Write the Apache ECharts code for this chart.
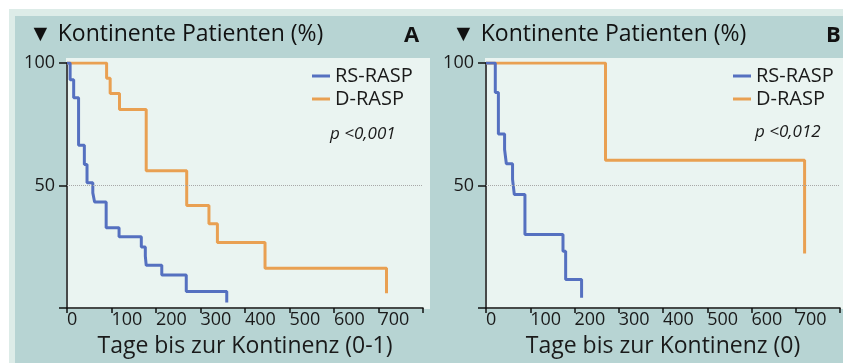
<!DOCTYPE html>
<html><head><meta charset="utf-8">
<script src="https://cdn.jsdelivr.net/npm/echarts@6/dist/echarts.min.js"></script>
<style>html,body{margin:0;padding:0;background:#fff}#c{width:843px;height:363px}</style>
</head><body><div id="c"></div>
<script>
// Panel A: Tage bis zur Kontinenz (0-1)
const daysA_RS = [0, 7, 15, 26, 39, 45, 58, 62, 88, 117, 167, 176, 178, 213, 268, 359];
const pctA_RS  = [100, 93.2, 85.8, 66.4, 58.6, 51.1, 47.0, 43.3, 32.8, 29.1, 24.9, 21.2, 17.4, 13.5, 6.7, 2.2];
const daysA_D  = [0, 89, 97, 118, 178, 269, 319, 338, 445, 718];
const pctA_D   = [100, 93.8, 87.6, 81, 56, 41.8, 34.4, 26.7, 16.2, 6];
// Panel B: Tage bis zur Kontinenz (0)
const daysB_RS = [0, 21, 28, 42, 46, 60, 64, 88, 174, 180, 216];
const pctB_RS  = [100, 88, 71, 64.7, 58.9, 52.5, 46.3, 30, 23.2, 11.6, 4.2];
const daysB_D  = [0, 270, 720];
const pctB_D   = [100, 60.3, 22.2];

const xTicks = [0, 100, 200, 300, 400, 500, 600, 700, 800];
const yTicks = [0, 50, 100];
const seriesNames = ['RS-RASP', 'D-RASP'];
const panelTitles = ['▼ Kontinente Patienten (%)', '▼ Kontinente Patienten (%)'];
const panelLetters = ['A', 'B'];
const xNames = ['Tage bis zur Kontinenz (0-1)', 'Tage bis zur Kontinenz (0)'];
const pTexts = ['p <0,001', 'p <0,012'];

const BLUE = '#5570C0', ORANGE = '#E9A052', TEAL = '#B7D4D3', MINT = '#EAF4F1', LIGHT = '#DDECE8';
const FONT = '"Open Sans", Lato, sans-serif';
const zip = (a, b) => a.map((v, i) => [v, b[i]]);

const gridL = [67, 486];
function xAxis(i) {
  return {
    type: 'value', gridIndex: i, min: xTicks[0], max: xTicks[xTicks.length - 1], interval: 100,
    name: xNames[i], nameLocation: 'middle', nameGap: 27,
    nameTextStyle: { fontFamily: FONT, fontSize: 23, color: '#1a1a1a' },
    axisLine: { show: true, onZero: false, lineStyle: { color: '#111', width: 1.5 } },
    axisTick: { show: true, length: 5, lineStyle: { color: '#111', width: 1.5 } },
    axisLabel: { align: 'left', margin: 3, fontFamily: FONT, fontSize: 18, color: '#1a1a1a',
      formatter: v => (v === 800 ? '' : String(v)) },
    splitLine: { show: false }
  };
}
function yAxis(i) {
  return {
    type: 'value', gridIndex: i, min: yTicks[0], max: yTicks[yTicks.length - 1], interval: 50,
    axisLine: { show: true, onZero: false, lineStyle: { color: '#111', width: 1.5 } },
    axisTick: { show: true, length: 8, lineStyle: { color: '#111', width: 1.5 } },
    axisLabel: { margin: 12, fontFamily: FONT, fontSize: 18, color: '#1a1a1a',
      formatter: v => (v === 0 ? '' : String(v)) },
    splitLine: { show: false }
  };
}
function line(name, data, color, i, mark) {
  const s = {
    name, type: 'line', xAxisIndex: i, yAxisIndex: i, step: 'end', data,
    showSymbol: false, symbol: 'none', lineStyle: { color, width: 3 }, itemStyle: { color },
    animation: false
  };
  if (mark) s.markLine = { silent: true, symbol: 'none', label: { show: false },
    lineStyle: { type: 'dotted', color: '#a8a8a8', width: 1 }, data: [{ yAxis: 50 }] };
  return s;
}

const chart = echarts.init(document.getElementById('c'), null, { renderer: 'canvas' });
chart.setOption({
  backgroundColor: '#fff',
  animation: false,
  graphic: [
    { type: 'rect', z: -100, shape: { x: 9, y: 9, width: 834, height: 354 }, style: { fill: LIGHT } },
    { type: 'rect', z: -99, shape: { x: 15, y: 16, width: 828, height: 347 }, style: { fill: TEAL } },
    { type: 'rect', z: -98, shape: { x: 66, y: 58, width: 364, height: 251 }, style: { fill: MINT } },
    { type: 'rect', z: -98, shape: { x: 485, y: 58, width: 358, height: 251 }, style: { fill: MINT } },
    { type: 'text', left: 330, top: 126, style: { text: pTexts[0], font: 'italic 17px ' + FONT, fill: '#1a1a1a' } },
    { type: 'text', left: 755, top: 124, style: { text: pTexts[1], font: 'italic 17px ' + FONT, fill: '#1a1a1a' } }
  ],
  title: [
    { text: panelTitles[0], left: 29, top: 23, padding: 0, textStyle: { fontFamily: FONT, fontSize: 23, fontWeight: 'normal', color: '#111' } },
    { text: panelLetters[0], left: 404, top: 25, padding: 0, textStyle: { fontFamily: FONT, fontSize: 22, fontWeight: 'bold', color: '#111' } },
    { text: panelTitles[1], left: 452, top: 23, padding: 0, textStyle: { fontFamily: FONT, fontSize: 23, fontWeight: 'normal', color: '#111' } },
    { text: panelLetters[1], left: 826, top: 25, padding: 0, textStyle: { fontFamily: FONT, fontSize: 22, fontWeight: 'bold', color: '#111' } }
  ],
  legend: [
    { data: seriesNames, left: 312, top: 66, orient: 'vertical', icon: 'rect', itemWidth: 18, itemHeight: 3,
      itemGap: 3, padding: 0, textStyle: { fontFamily: FONT, fontSize: 20, color: '#1a1a1a' } },
    { data: seriesNames, left: 733, top: 66, orient: 'vertical', icon: 'rect', itemWidth: 18, itemHeight: 3,
      itemGap: 3, padding: 0, textStyle: { fontFamily: FONT, fontSize: 20, color: '#1a1a1a' } }
  ],
  grid: [
    { left: gridL[0], top: 63, width: 356, height: 246 },
    { left: gridL[1], top: 63, width: 356, height: 246 }
  ],
  xAxis: [xAxis(0), xAxis(1)],
  yAxis: [yAxis(0), yAxis(1)],
  series: [
    line(seriesNames[1], zip(daysA_D, pctA_D), ORANGE, 0, true),
    line(seriesNames[0], zip(daysA_RS, pctA_RS), BLUE, 0, false),
    line(seriesNames[1], zip(daysB_D, pctB_D), ORANGE, 1, true),
    line(seriesNames[0], zip(daysB_RS, pctB_RS), BLUE, 1, false)
  ]
});
</script></body></html>
